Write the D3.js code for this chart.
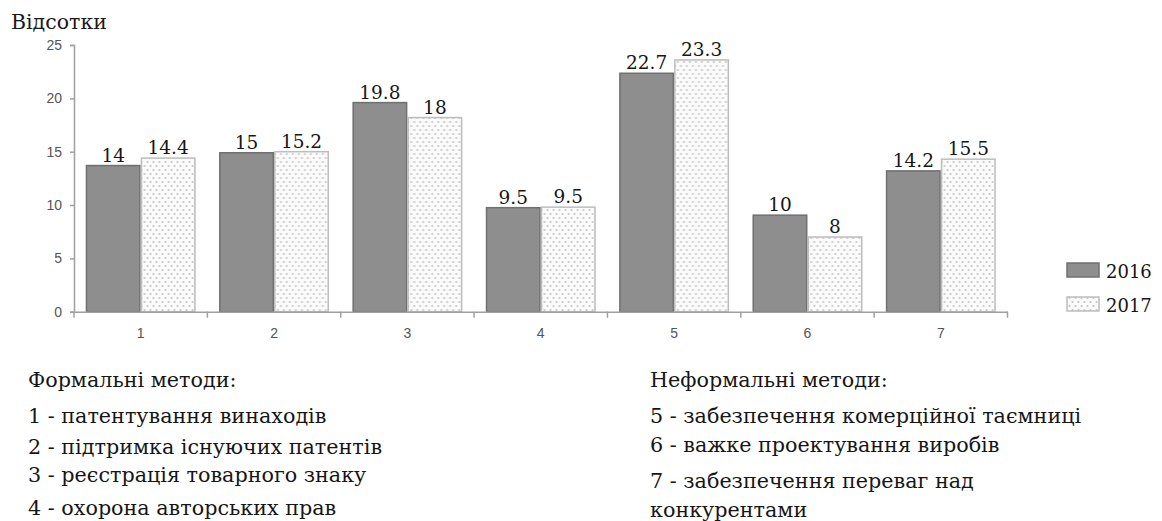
<!DOCTYPE html>
<html>
<head>
<meta charset="utf-8">
<script src="https://cdn.jsdelivr.net/npm/d3@7"></script>
<style>
  html, body { margin: 0; padding: 0; background: #fff; }
  svg { display: block; }
  .serif { font-family: "DejaVu Serif", "Liberation Serif", serif; }
  .sans { font-family: "Liberation Sans", Arial, sans-serif; }
</style>
</head>
<body>
<svg id="chart" width="1162" height="521"></svg>
<script>
// ---- data ----
const categories = ["1", "2", "3", "4", "5", "6", "7"];
const seriesNames = ["2016", "2017"];
const values2016 = [13.7, 14.9, 19.6, 9.75, 22.35, 9.05, 13.2];
const values2017 = [14.4, 15.0, 18.2, 9.8, 23.6, 7.0, 14.3];
const labels2016 = ["14", "15", "19.8", "9.5", "22.7", "10", "14.2"];
const labels2017 = ["14.4", "15.2", "18", "9.5", "23.3", "8", "15.5"];
const yTicks = [0, 5, 10, 15, 20, 25];
const yTitle = "Відсотки";
const leftTitle = "Формальні методи:";
const leftItems = ["1 - патентування винаходів", "2 - підтримка існуючих патентів", "3 - реєстрація товарного знаку", "4 - охорона авторських прав"];
const rightTitle = "Неформальні методи:";
const rightItems = ["5 - забезпечення комерційної таємниці", "6 - важке проектування виробів", "7 - забезпечення переваг над", "конкурентами"];

const svg = d3.select("#chart");
const defs = svg.append("defs");
const pat = defs.append("pattern").attr("id", "dots").attr("patternUnits", "userSpaceOnUse")
  .attr("width", 6).attr("height", 8);
pat.append("rect").attr("width", 6).attr("height", 8).attr("fill", "#fbfbfb");
pat.append("circle").attr("cx", 1.5).attr("cy", 2).attr("r", 1.1).attr("fill", "#c4c4c4");
pat.append("circle").attr("cx", 4.5).attr("cy", 6).attr("r", 1.1).attr("fill", "#c4c4c4");

const x0 = d3.scaleBand().domain(categories).range([74, 1007.5]).padding(0);
const bw = x0.bandwidth();
const pad = bw * 0.0877;
const x1 = d3.scaleBand().domain(seriesNames).range([pad, bw - pad]).padding(0);
const y = d3.scaleLinear().domain([0, 25]).range([311.7, 45]);

const fills = {"2016": "#8e8e8e", "2017": "url(#dots)"};
const strokes = {"2016": "#707070", "2017": "#bdbdbd"};
const vals = {"2016": values2016, "2017": values2017};
const labs = {"2016": labels2016, "2017": labels2017};

// y axis
const yAxis = svg.append("g").attr("transform", "translate(74,0)")
  .call(d3.axisLeft(y).tickValues(yTicks).tickSize(4).tickPadding(8));
yAxis.attr("font-family", null).attr("font-size", null);
yAxis.select(".domain").attr("stroke", "#a0a0a0").attr("stroke-width", 1.5);
yAxis.selectAll(".tick line").attr("stroke", "#a0a0a0").attr("stroke-width", 1.5);
yAxis.selectAll(".tick text").attr("class", "sans").attr("fill", "#555").style("font-size", "14px");

// bars
const groups = svg.append("g").selectAll("g").data(categories).join("g")
  .attr("transform", c => `translate(${x0(c)},0)`);
seriesNames.forEach(s => {
  groups.append("rect")
    .attr("x", x1(s) + 0.75)
    .attr("width", x1.bandwidth() - 1.5)
    .attr("y", (c, i) => y(vals[s][i]))
    .attr("height", (c, i) => y(0) - y(vals[s][i]))
    .attr("fill", fills[s]).attr("stroke", strokes[s]).attr("stroke-width", 1.5);
  groups.append("text").attr("class", "serif")
    .attr("x", x1(s) + x1.bandwidth() / 2)
    .attr("y", (c, i) => y(vals[s][i]) - 4)
    .attr("text-anchor", "middle")
    .style("font-size", "18.5px").attr("fill", "#161616")
    .text((c, i) => labs[s][i]);
});

// x axis
const xAxis = svg.append("g").attr("transform", `translate(0,${y(0)})`)
  .call(d3.axisBottom(x0).tickSize(0).tickPadding(16));
xAxis.attr("font-family", null).attr("font-size", null);
xAxis.select(".domain").attr("stroke", "#a0a0a0").attr("stroke-width", 1.5);
xAxis.selectAll(".tick text").attr("class", "sans").attr("fill", "#555").style("font-size", "14px");
const bounds = categories.map(c => x0(c)).concat([x0.range()[1]]);
xAxis.selectAll(".bound").data(bounds).join("line").attr("class", "bound")
  .attr("x1", d => d).attr("x2", d => d).attr("y1", 0).attr("y2", 6)
  .attr("stroke", "#a0a0a0").attr("stroke-width", 1.5);

// y title
svg.append("text").attr("class", "serif").attr("x", 11).attr("y", 29)
  .style("font-size", "20.5px").attr("fill", "#1a1a1a").text(yTitle);

// legend
const legend = svg.append("g");
seriesNames.forEach((s, i) => {
  const ly = 263 + i * 34;
  legend.append("rect").attr("x", 1067).attr("y", ly).attr("width", 32).attr("height", 14)
    .attr("fill", fills[s]).attr("stroke", strokes[s]).attr("stroke-width", 1.5);
  legend.append("text").attr("class", "serif").attr("x", 1106).attr("y", ly + 15)
    .style("font-size", "18px").attr("fill", "#161616").text(s);
});

// bottom notes
function note(x, yy, t) {
  svg.append("text").attr("class", "serif").attr("x", x).attr("y", yy)
    .style("font-size", "20.7px").attr("fill", "#161616").text(t);
}
note(28, 387, leftTitle);
[423, 454, 482, 515].forEach((yy, i) => note(28, yy, leftItems[i]));
note(650, 387, rightTitle);
[423, 452, 488, 517].forEach((yy, i) => note(650, yy, rightItems[i]));
</script>
</body>
</html>
